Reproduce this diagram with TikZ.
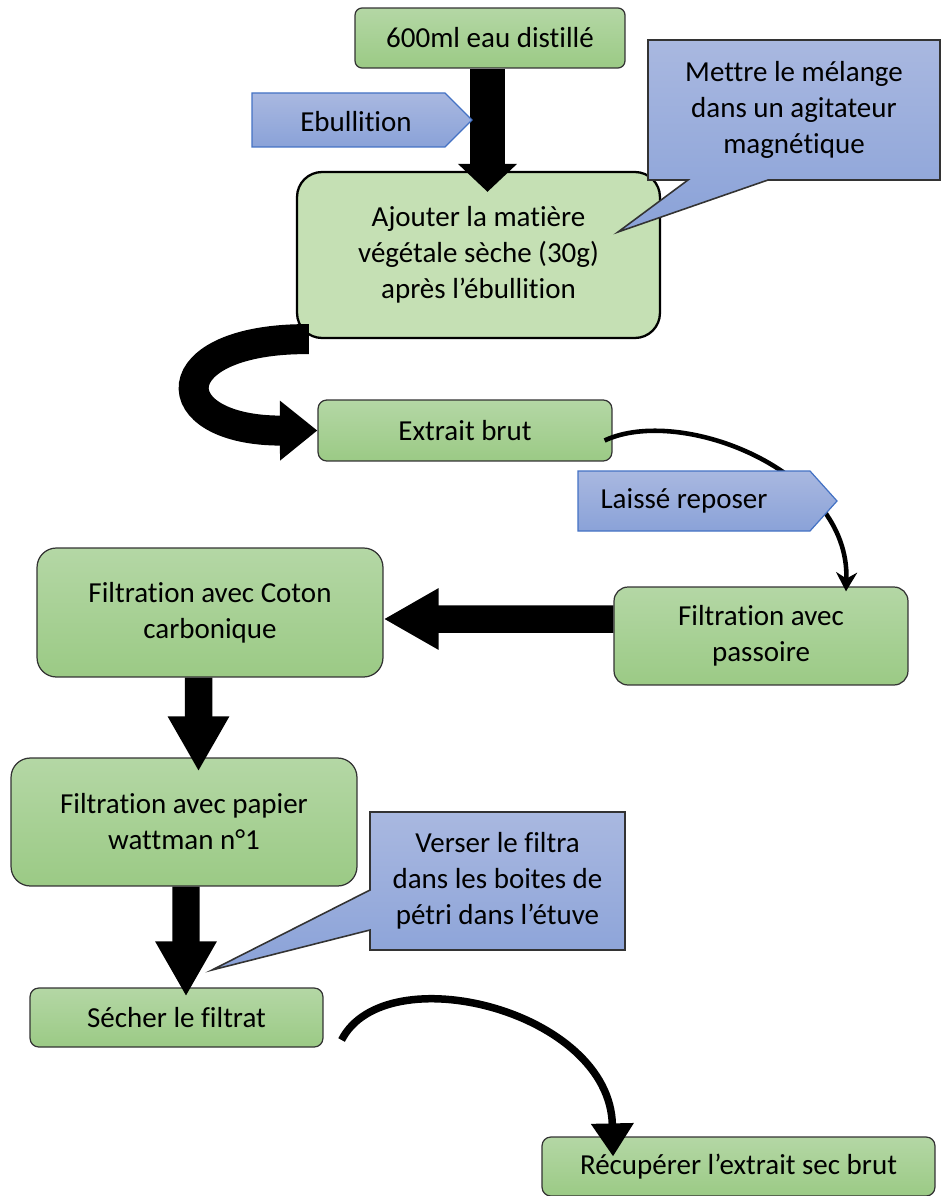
\documentclass[tikz,border=0pt]{standalone}
\usepackage{fontspec}
\setmainfont{Carlito}[Ligatures=NoCommon]
\usetikzlibrary{positioning, shapes.callouts, arrows.meta}
\definecolor{VertHaut}  {HTML}{B4D7A5}
\definecolor{VertBas}   {HTML}{9BCA85}
\definecolor{VertPlat}  {HTML}{C5E0B4}
\definecolor{BleuHaut}  {HTML}{A9B8E0}
\definecolor{BleuBas}   {HTML}{8AA2D8}
\definecolor{BleuBord}  {HTML}{4472C4}
\definecolor{BordSombre}{HTML}{333333}
\tikzset{
  texte/.style={font=\fontsize{16.5}{20.5}\selectfont, align=center, inner sep=0pt},
  etape/.style={texte, top color=VertHaut, bottom color=VertBas, draw=BordSombre, line width=0.7pt},
  bulle/.style={texte, rectangle callout, top color=BleuHaut, bottom color=BleuBas, draw=BordSombre, line width=0.9pt},
  etiquette/.style={top color=BleuHaut, bottom color=BleuBas, draw=BleuBord, line width=0.7pt},
  grossefleche/.style={line width=0.55cm, -{Triangle[width=1.15cm,length=1.1cm]}},
}

\begin{document}
\begin{tikzpicture}[x=0.02cm, y=-0.02cm]
  \useasboundingbox (0,0) rectangle (942,1196);

      % ── Étapes ──
      \node[etape, rounded corners=4pt, minimum width=5.4cm, minimum height=1.2cm] (eau) at (490,38) {600ml eau distillé};
      \node[texte, fill=VertPlat, draw=black, line width=1.3pt, rounded corners=0.5cm,
            minimum width=7.26cm, minimum height=3.32cm] (ajout) at (478.5,255)
            {Ajouter la matière\\végétale sèche (30g)\\ après l’ébullition};
      \node[etape, rounded corners=5pt, minimum width=5.88cm, minimum height=1.22cm] (brut) at (465,430.5) {Extrait brut};
      \node[etape, rounded corners=8pt, minimum width=5.88cm, minimum height=1.96cm] (passoire) at (761,636) {Filtration avec\\passoire};
      \node[etape, rounded corners=11pt, minimum width=6.92cm, minimum height=2.58cm] (coton) at (210,612.5) {Filtration avec Coton\\carbonique};
      \node[etape, rounded corners=11pt, minimum width=6.92cm, minimum height=2.56cm] (papier) at (184,822) {Filtration avec papier\\wattman n°1};
      \node[etape, rounded corners=5pt, minimum width=5.86cm, minimum height=1.18cm] (sechage) at (176.5,1017.5) {Sécher le filtrat};
      \node[etape, rounded corners=5pt, minimum width=7.86cm, minimum height=1.18cm] (recup) at (738.5,1166.5) {Récupérer l’extrait sec brut};

      % ── Flèches ──
      \draw[line width=0.7cm, -{Triangle[width=1.15cm,length=0.56cm]}]
        ([xshift=-0.05cm]eau.south) -- ([xshift=-0.05cm,yshift=-0.42cm]eau.south |- ajout.north);
      \draw[line width=0.6cm, -{Triangle[width=1.15cm,length=0.75cm]}]
        ([xshift=0.26cm]ajout.south west) .. controls (160,338) and (160,431) .. (brut.west);
      \draw[line width=2.6pt, -{Stealth[width=0.42cm,length=0.38cm]}]
        ([xshift=-0.16cm,yshift=-0.2cm]brut.east) .. controls (680,405) and (850,470) .. ([xshift=1.7cm,yshift=-0.1cm]passoire.north);
      \draw[grossefleche] ([yshift=0.34cm]passoire.west) -- ([yshift=-0.13cm]coton.east);
      \draw[grossefleche] ([xshift=-0.23cm]coton.south) -- ([xshift=0.29cm,yshift=-0.28cm]papier.north);
      \draw[grossefleche] ([xshift=0.04cm]papier.south) -- ([xshift=0.19cm,yshift=-0.18cm]sechage.north);
      \draw[line width=0.15cm, -{Triangle[width=0.82cm,length=0.66cm]}]
        ([xshift=0.36cm,yshift=-0.45cm]sechage.east) .. controls (385,955) and (610,1010) .. ([xshift=-2.51cm,yshift=-0.4cm]recup.north);

      % ── Étiquettes ──
      \path[etiquette] (252,93) -- (445,93) -- (472,120) -- (445,147) -- (252,147) -- cycle;
      \node[texte] (ebul) at (356,122) {Ebullition};
      \path[etiquette] (578,471) -- (810,471) -- (837,501) -- (810,531) -- (578,531) -- cycle;
      \node[texte] (repos) at (684,501) {Laissé reposer};

      % ── Bulles ──
      \node[bulle, minimum width=5.84cm, minimum height=2.8cm, callout absolute pointer={(618,232)},
            callout pointer width=1.6cm] (agit) at (794,110) {Mettre le mélange\\dans un agitateur\\magnétique};
      \node[bulle, minimum width=5.1cm, minimum height=2.76cm, callout absolute pointer={(212,970)},
            callout pointer width=0.8cm] (petri) at (497.5,881) {Verser le filtra\\dans les boites de\\pétri dans l’étuve};
\end{tikzpicture}
\end{document}
